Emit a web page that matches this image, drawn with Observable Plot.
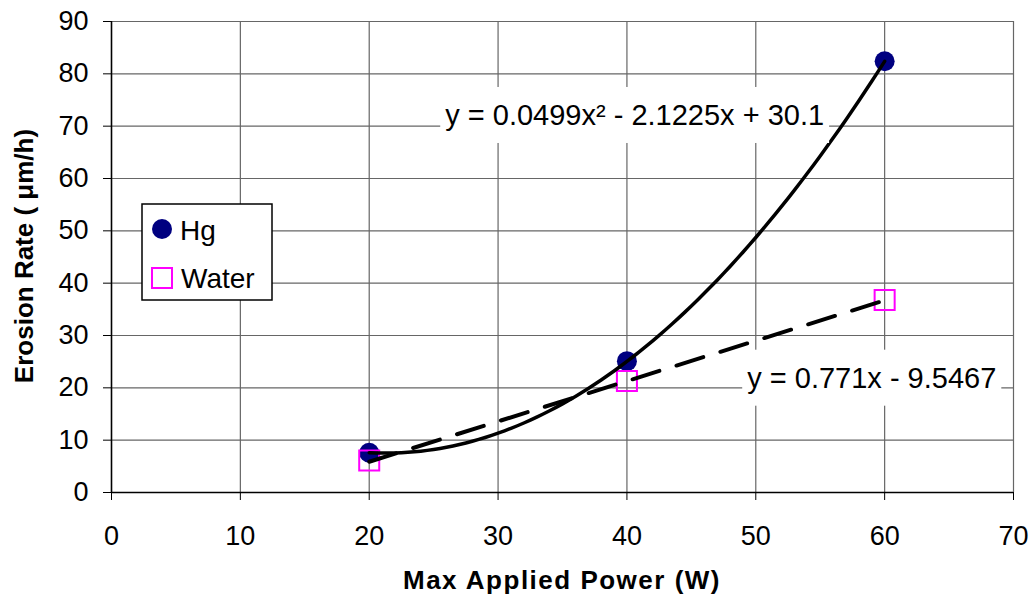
<!DOCTYPE html>
<html>
<head>
<meta charset="utf-8">
<script src="https://cdn.jsdelivr.net/npm/d3@7"></script>
<script src="https://cdn.jsdelivr.net/npm/@observablehq/plot@0.6"></script>
<style>
  body { margin: 0; background: #fff; }
  #wrap { position: relative; width: 1032px; height: 601px; font-family: "Liberation Sans", Arial, sans-serif; }
  #overlay { position: absolute; left: 0; top: 0; pointer-events: none; }
</style>
</head>
<body>
<div id="wrap"></div>
<script>
// Measured erosion rates versus maximum applied power
const power = [20, 40, 60];
const hgRate = [7.6, 25.1, 82.4];
const waterRate = [6.1, 21.3, 36.8];

// Trendline coefficients (Hg: quadratic a, b, c; Water: linear slope, intercept)
const hgFit = [0.0499, -2.1225, 30.1];
const waterFit = [0.771, -9.5467];

// Axis ticks
const xTicks = [0, 10, 20, 30, 40, 50, 60, 70];
const yTicks = [0, 10, 20, 30, 40, 50, 60, 70, 80, 90];

// Equation label anchors (data units)
const eqLabelX = [40.6, 59.0];
const eqLabelY = [72.0, 21.8];

const hgColor = "#000080";
const waterColor = "#ff00ff";
const gridColor = "#666666";

const rows = power.map((p, i) => ({power: p, hg: hgRate[i], water: waterRate[i]}));

const [qa, qb, qc] = hgFit;
const hgCurve = d3.range(power[0], power[power.length - 1] + 0.001, 0.5)
  .map(x => ({x, y: qa * x * x + qb * x + qc}));

const [m, k] = waterFit;
const waterLine = [power[0], power[power.length - 1]].map(x => ({x, y: m * x + k}));

const fmtTerm = v => (v < 0 ? " - " : " + ") + Math.abs(v);
const eqLabels = [
  {x: eqLabelX[0], y: eqLabelY[0], text: `y = ${qa}x\u00B2${fmtTerm(qb)}x${fmtTerm(qc)}`},
  {x: eqLabelX[1], y: eqLabelY[1], text: `y = ${m}x${fmtTerm(k)}`}
];

const chart = Plot.plot({
  width: 1032,
  height: 601,
  marginLeft: 111,
  marginRight: 19,
  marginTop: 21,
  marginBottom: 109,
  x: {domain: [0, 70]},
  y: {domain: [0, 90]},
  style: {fontFamily: "'Liberation Sans', Arial, sans-serif", color: "black", background: "white"},
  marks: [
    Plot.gridX(xTicks, {stroke: gridColor, strokeOpacity: 1, strokeWidth: 1.2}),
    Plot.gridY(yTicks, {stroke: gridColor, strokeOpacity: 1, strokeWidth: 1.2}),
    Plot.axisX(xTicks, {tickSize: 8, tickPadding: 25, fontSize: 27, label: null, tickFormat: d => String(d)}),
    Plot.axisY(yTicks, {tickSize: 8, tickPadding: 15, fontSize: 27, label: null, tickFormat: d => String(d)}),
    Plot.ruleX([0], {stroke: "black", strokeWidth: 1.5}),
    Plot.ruleY([0], {stroke: "black", strokeWidth: 1.5}),
    Plot.dot(rows, {x: "power", y: "hg", r: 10, fill: hgColor}),
    Plot.dot(rows, {x: "power", y: "water", symbol: "square", r: 11.3, fill: "none", stroke: waterColor, strokeWidth: 2}),
    Plot.line(hgCurve, {x: "x", y: "y", stroke: "black", strokeWidth: 3.5, curve: "linear"}),
    Plot.line(waterLine, {x: "x", y: "y", stroke: "black", strokeWidth: 4, strokeDasharray: "28,18"}),
    Plot.text(eqLabels, {x: "x", y: "y", text: "text", fontSize: 29, fill: "black"})
  ]
});

const wrap = document.getElementById("wrap");
wrap.appendChild(chart);

// White boxes behind the trendline equations
chart.querySelectorAll('g[aria-label="text"] text').forEach(t => {
  const b = t.getBBox();
  const r = document.createElementNS("http://www.w3.org/2000/svg", "rect");
  r.setAttribute("x", b.x - 5);
  r.setAttribute("y", b.y - 12);
  r.setAttribute("width", b.width + 10);
  r.setAttribute("height", b.height + 24);
  r.setAttribute("fill", "white");
  const tr = t.getAttribute("transform");
  if (tr) r.setAttribute("transform", tr);
  t.parentNode.insertBefore(r, t);
});

// Legend and axis titles
const svg = d3.select(wrap).append("svg")
  .attr("id", "overlay")
  .attr("width", 1032)
  .attr("height", 601)
  .style("font-family", "'Liberation Sans', Arial, sans-serif");

const leg = svg.append("g");
leg.append("rect").attr("x", 142).attr("y", 204).attr("width", 130).attr("height", 96)
  .attr("fill", "white").attr("stroke", "black").attr("stroke-width", 1.5);
leg.append("circle").attr("cx", 162).attr("cy", 229).attr("r", 10).attr("fill", hgColor);
leg.append("text").attr("x", 180).attr("y", 240).attr("font-size", 28).text("Hg");
leg.append("rect").attr("x", 152).attr("y", 268).attr("width", 20).attr("height", 20)
  .attr("fill", "white").attr("stroke", waterColor).attr("stroke-width", 2);
leg.append("text").attr("x", 181).attr("y", 288).attr("font-size", 28).text("Water");

svg.append("text")
  .attr("x", 562).attr("y", 589)
  .attr("text-anchor", "middle")
  .attr("font-size", 26).attr("font-weight", "bold")
  .attr("letter-spacing", 1.5)
  .text("Max Applied Power (W)");

svg.append("text")
  .attr("transform", "translate(33,256) rotate(-90)")
  .attr("text-anchor", "middle")
  .attr("font-size", 26).attr("font-weight", "bold")
  .text("Erosion Rate ( \u03BCm/h)");
</script>
</body>
</html>
